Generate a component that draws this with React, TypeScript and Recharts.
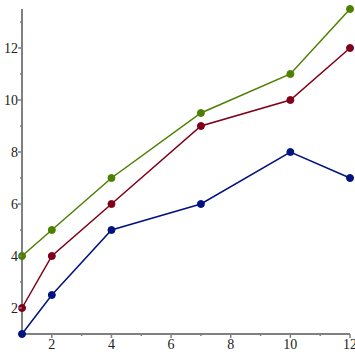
import { LineChart, Line, XAxis, YAxis } from "recharts";

const xs = [1, 2, 4, 7, 10, 12];
const blueValues = [1, 2.5, 5, 6, 8, 7];
const redValues = [2, 4, 6, 9, 10, 12];
const greenValues = [4, 5, 7, 9.5, 11, 13.5];

const xTicks = [2, 3, 4, 5, 6, 7, 8, 9, 10, 11, 12];
const yTicks = [2, 3, 4, 5, 6, 7, 8, 9, 10, 11, 12, 13];

const data = xs.map((x, i) => ({
  x,
  blue: blueValues[i],
  red: redValues[i],
  green: greenValues[i],
}));

const AXIS = "#808080";
const FONT = "'Liberation Serif', serif";

const XTick = (props: any) => {
  const { x, y, payload } = props;
  const major = payload.value % 2 === 0;
  return (
    <g>
      <line x1={x} x2={x} y1={y} y2={y + (major ? 4 : 2)} stroke={AXIS} strokeWidth={1.5} />
      {major && (
        <text x={x} y={y + 15} textAnchor="middle" fontSize={14} fontFamily={FONT} fill="#222">
          {payload.value}
        </text>
      )}
    </g>
  );
};

const YTick = (props: any) => {
  const { x, y, payload } = props;
  const major = payload.value % 2 === 0;
  return (
    <g>
      <line x1={x} x2={x - (major ? 4 : 2)} y1={y} y2={y} stroke={AXIS} strokeWidth={1.5} />
      {major && (
        <text x={x - 4} y={y + 5} textAnchor="end" fontSize={14} fontFamily={FONT} fill="#222">
          {payload.value}
        </text>
      )}
    </g>
  );
};

export default function App() {
  return (
    <div style={{ position: "absolute", left: 0, top: 0, background: "#fff" }}>
      <LineChart width={355} height={355} data={data} margin={{ top: 9, right: 5, bottom: 0, left: 0 }}>
        <XAxis
          dataKey="x"
          type="number"
          domain={[1, 12]}
          ticks={xTicks}
          interval={0}
          height={21}
          tickSize={0}
          tickMargin={0}
          tickLine={false}
          tick={<XTick />}
          axisLine={{ stroke: AXIS, strokeWidth: 2 }}
        />
        <YAxis
          type="number"
          domain={[1, 13.5]}
          ticks={yTicks}
          interval={0}
          width={22}
          tickSize={0}
          tickMargin={0}
          tickLine={false}
          tick={<YTick />}
          axisLine={{ stroke: AXIS, strokeWidth: 2 }}
        />
        <Line dataKey="blue" stroke="#00137f" strokeWidth={1.5} dot={{ r: 3.5, fill: "#00137f", stroke: "#00137f", strokeWidth: 1 }} isAnimationActive={false} />
        <Line dataKey="red" stroke="#7f0018" strokeWidth={1.5} dot={{ r: 3.5, fill: "#7f0018", stroke: "#7f0018", strokeWidth: 1 }} isAnimationActive={false} />
        <Line dataKey="green" stroke="#4d8000" strokeWidth={1.5} dot={{ r: 3.5, fill: "#4d8000", stroke: "#4d8000", strokeWidth: 1 }} isAnimationActive={false} />
      </LineChart>
    </div>
  );
}
